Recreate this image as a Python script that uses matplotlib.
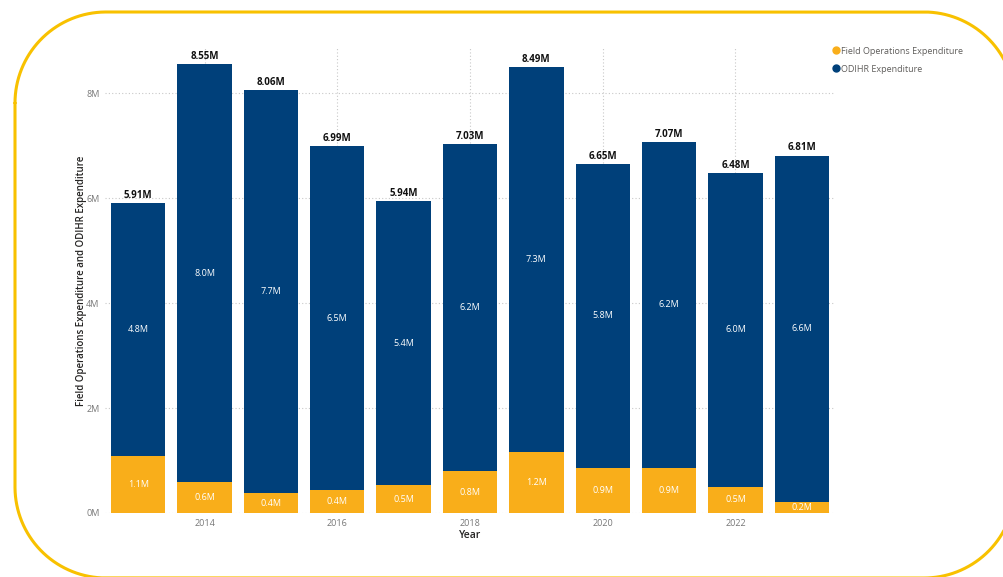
import matplotlib
matplotlib.use("Agg")
import matplotlib.pyplot as plt
import numpy as np
from matplotlib.lines import Line2D

years = [2013, 2014, 2015, 2016, 2017, 2018, 2019, 2020, 2021, 2022, 2023]
field_ops = [1.09, 0.59, 0.38, 0.44, 0.53, 0.80, 1.16, 0.86, 0.86, 0.50, 0.21]
odihr = [4.82, 7.96, 7.68, 6.55, 5.41, 6.23, 7.33, 5.79, 6.21, 5.98, 6.60]
xticks = [2014, 2016, 2018, 2020, 2022]
yticks = [0, 2, 4, 6, 8]
ytick_labels = ["0M", "2M", "4M", "6M", "8M"]
series_names = ["Field Operations Expenditure", "ODIHR Expenditure"]

C_FIELD = "#F9AE1A"
C_ODIHR = "#00407A"
FONT = ["Open Sans", "DejaVu Sans"]
plt.rcParams["font.family"] = FONT

fig = plt.figure(figsize=(10.04, 5.77), dpi=100)

# overlay in pixel coordinates for the rounded golden border (only the on-canvas part)
bg = fig.add_axes([0, 0, 1, 1], zorder=-1)
bg.set_xlim(0, 1004)
bg.set_ylim(577, 0)
bg.axis("off")
L, T, R, B, r = 15, 12, 1015, 578, 91
t = np.linspace(0, np.pi / 2, 200)[:-1]
s = np.linspace(0, 1, 400)[:-1]
xs = np.concatenate([L + r - r * np.cos(t), L + r + (R - L - 2 * r) * s,
                     R - r + r * np.sin(t), np.full_like(s, R),
                     R - r + r * np.cos(t), R - r - (R - L - 2 * r) * s,
                     L + r - r * np.sin(t), np.full_like(s, L), [L + r - r]])
ys = np.concatenate([T + r - r * np.sin(t), np.full_like(s, T),
                     T + r - r * np.cos(t), T + r + (B - T - 2 * r) * s,
                     B - r + r * np.sin(t), np.full_like(s, B),
                     B - r + r * np.cos(t), B - r - (B - T - 2 * r) * s, [T + r]])
off = (xs > 1005.5) | (ys > 578.5)
xs = np.where(off, np.nan, xs)
ys = np.where(off, np.nan, ys)
bg.plot(xs, ys, color="#F8C100", linewidth=2.2, clip_on=False,
        solid_joinstyle="round", solid_capstyle="round")

ax = fig.add_axes([105 / 1004, 64 / 577, 730 / 1004, 465 / 577])
ax.patch.set_alpha(0)

w = 0.82
ax.bar(years, field_ops, width=w, color=C_FIELD, zorder=3)
ax.bar(years, odihr, width=w, bottom=field_ops, color=C_ODIHR, zorder=3)

for x, f, o in zip(years, field_ops, odihr):
    ax.text(x, f / 2, f"{f:.1f}M", ha="center", va="center", color="white",
            fontsize=6.5, zorder=4)
    ax.text(x, f + o / 2, f"{o:.1f}M", ha="center", va="center", color="white",
            fontsize=6.5, zorder=4)
    ax.text(x, f + o + 0.04, f"{f + o:.2f}M", ha="center", va="bottom",
            color="#111111", fontsize=7, fontweight="bold", zorder=4)

ax.set_xlim(2012.5, 2023.5)
ax.set_ylim(0, 8.86)
ax.set_xticks(xticks)
ax.set_xticklabels([str(t) for t in xticks])
ax.set_yticks(yticks)
ax.set_yticklabels(ytick_labels)
ax.tick_params(axis="both", length=0, labelsize=6.5, labelcolor="#777777")
ax.tick_params(axis="x", pad=4)
ax.tick_params(axis="y", pad=4)
for sp in ax.spines.values():
    sp.set_visible(False)
ax.grid(True, which="major", axis="both", linestyle=(0, (1, 2)), color="#C8C8C8",
        linewidth=0.8, zorder=0)
ax.set_axisbelow(True)

ax.set_xlabel("Year", fontsize=7.5, color="#252423", fontweight="semibold", labelpad=2)
ax.set_ylabel("Field Operations Expenditure and ODIHR Expenditure", fontsize=7,
              color="#252423", fontweight="semibold", labelpad=-1)

handles = [Line2D([], [], marker="o", linestyle="", color=C_FIELD, markersize=5),
           Line2D([], [], marker="o", linestyle="", color=C_ODIHR, markersize=5)]
leg = fig.legend(handles, series_names, loc="upper left",
                 bbox_to_anchor=(828 / 1004, 1 - 43 / 577), frameon=False,
                 fontsize=6.5, labelcolor="#605E5C", handletextpad=0.05,
                 handlelength=1.0, labelspacing=1.0, borderaxespad=0)

fig.savefig("out.png", dpi=100)
